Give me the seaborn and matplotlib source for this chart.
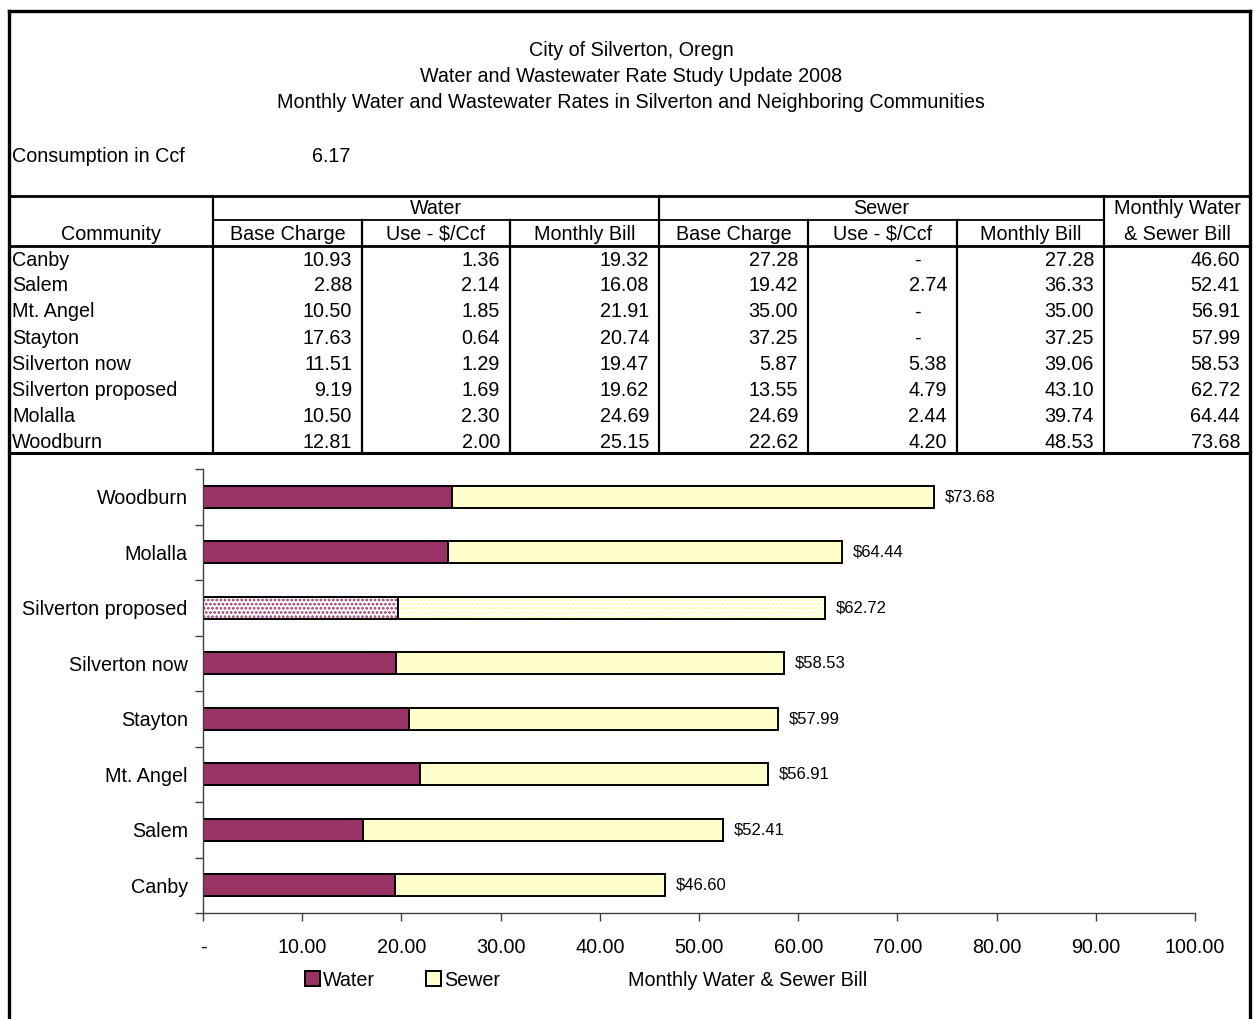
import numpy as np
import pandas as pd
import matplotlib
matplotlib.use("Agg")
import matplotlib.pyplot as plt
from matplotlib.lines import Line2D
from matplotlib.patches import Patch, Rectangle
from matplotlib.ticker import FuncFormatter, FixedLocator
import seaborn as sns

# ---------------- data ----------------
title_lines = ["City of Silverton, Oregn",
               "Water and Wastewater Rate Study Update 2008",
               "Monthly Water and Wastewater Rates in Silverton and Neighboring Communities"]
consumption_label = "Consumption in Ccf"
consumption_value = 6.17

communities = ["Canby", "Salem", "Mt. Angel", "Stayton", "Silverton now",
               "Silverton proposed", "Molalla", "Woodburn"]
water_base = [10.93, 2.88, 10.50, 17.63, 11.51, 9.19, 10.50, 12.81]
water_use = [1.36, 2.14, 1.85, 0.64, 1.29, 1.69, 2.30, 2.00]
water_bill = [19.32, 16.08, 21.91, 20.74, 19.47, 19.62, 24.69, 25.15]
sewer_base = [27.28, 19.42, 35.00, 37.25, 5.87, 13.55, 24.69, 22.62]
sewer_use = [None, 2.74, None, None, 5.38, 4.79, 2.44, 4.20]
sewer_bill = [27.28, 36.33, 35.00, 37.25, 39.06, 43.10, 39.74, 48.53]
total_bill = [46.60, 52.41, 56.91, 57.99, 58.53, 62.72, 64.44, 73.68]

sub_headers = ["Base Charge", "Use - $/Ccf", "Monthly Bill"]
x_ticks = [0, 10, 20, 30, 40, 50, 60, 70, 80, 90, 100]
highlight = "Silverton proposed"

WATER = "#993366"
SEWER = "#FFFFCC"

# ---------------- figure ----------------
sns.set_theme(style="white")
plt.rcParams["font.family"] = ["Liberation Sans", "DejaVu Sans"]
plt.rcParams["hatch.linewidth"] = 1.3
plt.rcParams["text.color"] = "black"
plt.rcParams["xtick.color"] = "black"
plt.rcParams["ytick.color"] = "black"

W, H = 1253, 1019
fig = plt.figure(figsize=(W / 100, H / 100), dpi=100)
FS = 14.2


def fx(x):
    return x / W


def fy(y):
    return 1 - y / H


def hline(y, x0, x1, lw):
    fig.add_artist(Line2D([fx(x0), fx(x1)], [fy(y), fy(y)], color="black", lw=lw,
                          solid_capstyle="projecting"))


def vline(x, y0, y1, lw):
    fig.add_artist(Line2D([fx(x), fx(x)], [fy(y0), fy(y1)], color="black", lw=lw,
                          solid_capstyle="projecting"))


def txt(x, y, s, ha="left", size=FS):
    fig.text(fx(x), fy(y), s, ha=ha, va="center", fontsize=size, color="black")


# outer frame
vline(9, 11, 1019, 2.4)
hline(11, 9, 1250, 2.4)
vline(1250, 11, 1019, 2.4)

# titles
for i, t in enumerate(title_lines):
    txt(631, 50 + 26 * i, t, ha="center")

txt(12, 156, consumption_label)
txt(350, 156, f"{consumption_value:.2f}", ha="right")

# table lines
hline(196, 9, 1250, 2.0)
hline(220, 213, 1104, 1.3)
hline(246, 9, 1250, 2.0)
hline(453, 9, 1250, 2.2)
for x in [213, 659, 1104]:
    vline(x, 196, 453, 1.6)
for x in [362, 510, 808, 957]:
    vline(x, 220, 453, 1.6)

# headers
txt((213 + 659) / 2, 208, "Water", ha="center")
txt((659 + 1104) / 2, 208, "Sewer", ha="center")
txt((1104 + 1250) / 2, 208, "Monthly Water", ha="center")
txt((1104 + 1250) / 2, 234, "& Sewer Bill", ha="center")
txt((9 + 213) / 2, 234, "Community", ha="center")
col_bounds = [213, 362, 510, 659, 808, 957, 1104, 1250]
for i in range(6):
    txt((col_bounds[i] + col_bounds[i + 1]) / 2, 234, sub_headers[i % 3], ha="center")

# rows
columns = [water_base, water_use, water_bill, sewer_base, sewer_use, sewer_bill, total_bill]
for r, name in enumerate(communities):
    y = 260 + 26 * r
    txt(12, y, name)
    for c, col in enumerate(columns):
        v = col[r]
        right = col_bounds[c + 1] - 10
        if v is None:
            txt(right - 26, y, "-", ha="right")
        else:
            txt(right, y, f"{v:.2f}", ha="right")

# ---------------- chart ----------------
ax = fig.add_axes([fx(203), fy(913), fx(1195) - fx(203), (913 - 469) / H])
df = pd.DataFrame({"Community": communities, "Water": water_bill, "Total": total_bill})
order = communities[::-1]

sns.barplot(data=df, y="Community", x="Total", order=order, orient="h",
            color=SEWER, saturation=1, edgecolor="black", linewidth=1.4,
            width=0.4, ax=ax)
sns.barplot(data=df, y="Community", x="Water", order=order, orient="h",
            color=WATER, saturation=1, edgecolor="black", linewidth=1.4,
            width=0.4, ax=ax)

n = len(order)
hi = order.index(highlight)
for p, col in [(ax.patches[hi], "#FFFFA0"), (ax.patches[n + hi], WATER)]:
    p.set_facecolor("white")
    p.set_edgecolor(col)
    p.set_hatch("....")
    p.set_linewidth(0)
    ax.add_patch(Rectangle(p.get_xy(), p.get_width(), p.get_height(),
                           fill=False, edgecolor="black", lw=1.4, zorder=p.get_zorder() + 0.1))

# value labels
for i, name in enumerate(order):
    v = total_bill[communities.index(name)]
    ax.text(v + 1.1, i, f"${v:.2f}", va="center", ha="left", fontsize=12, color="black")

ax.set_xlim(0, 100)
ax.set_ylim(n - 0.5, -0.5)
ax.set_xlabel("")
ax.set_ylabel("")
ax.xaxis.set_major_locator(FixedLocator(x_ticks))
ax.xaxis.set_major_formatter(FuncFormatter(lambda v, p: "-" if v == 0 else f"{v:.2f}"))
ax.yaxis.set_minor_locator(FixedLocator(np.arange(-0.5, n, 1.0)))
ax.tick_params(axis="y", which="major", length=0, pad=11, labelsize=FS, labelcolor="black")
ax.tick_params(axis="y", which="minor", left=True, length=6, width=1, color="#404040",
               direction="out")
ax.tick_params(axis="x", which="major", bottom=True, length=6, width=1, color="#404040",
               direction="out", pad=12, labelsize=FS, labelcolor="black")
for s in ["top", "right"]:
    ax.spines[s].set_visible(False)
for s in ["left", "bottom"]:
    ax.spines[s].set_color("#404040")
    ax.spines[s].set_linewidth(1.0)
ax.set_facecolor("none")

# legend
handles = [Patch(facecolor=WATER, edgecolor="black", lw=1.4, label="Water"),
           Patch(facecolor=SEWER, edgecolor="black", lw=1.4, label="Sewer")]
leg = fig.legend(handles=handles, loc="center left", bbox_to_anchor=(fx(305), fy(980)),
                 ncol=2, frameon=False, fontsize=FS, handlelength=0.75, handleheight=0.75,
                 handletextpad=0.15, columnspacing=2.6, borderaxespad=0, borderpad=0)
for t in leg.get_texts():
    t.set_color("black")
txt(628, 980, "Monthly Water & Sewer Bill")

fig.savefig("out.png", dpi=100, facecolor="white")
